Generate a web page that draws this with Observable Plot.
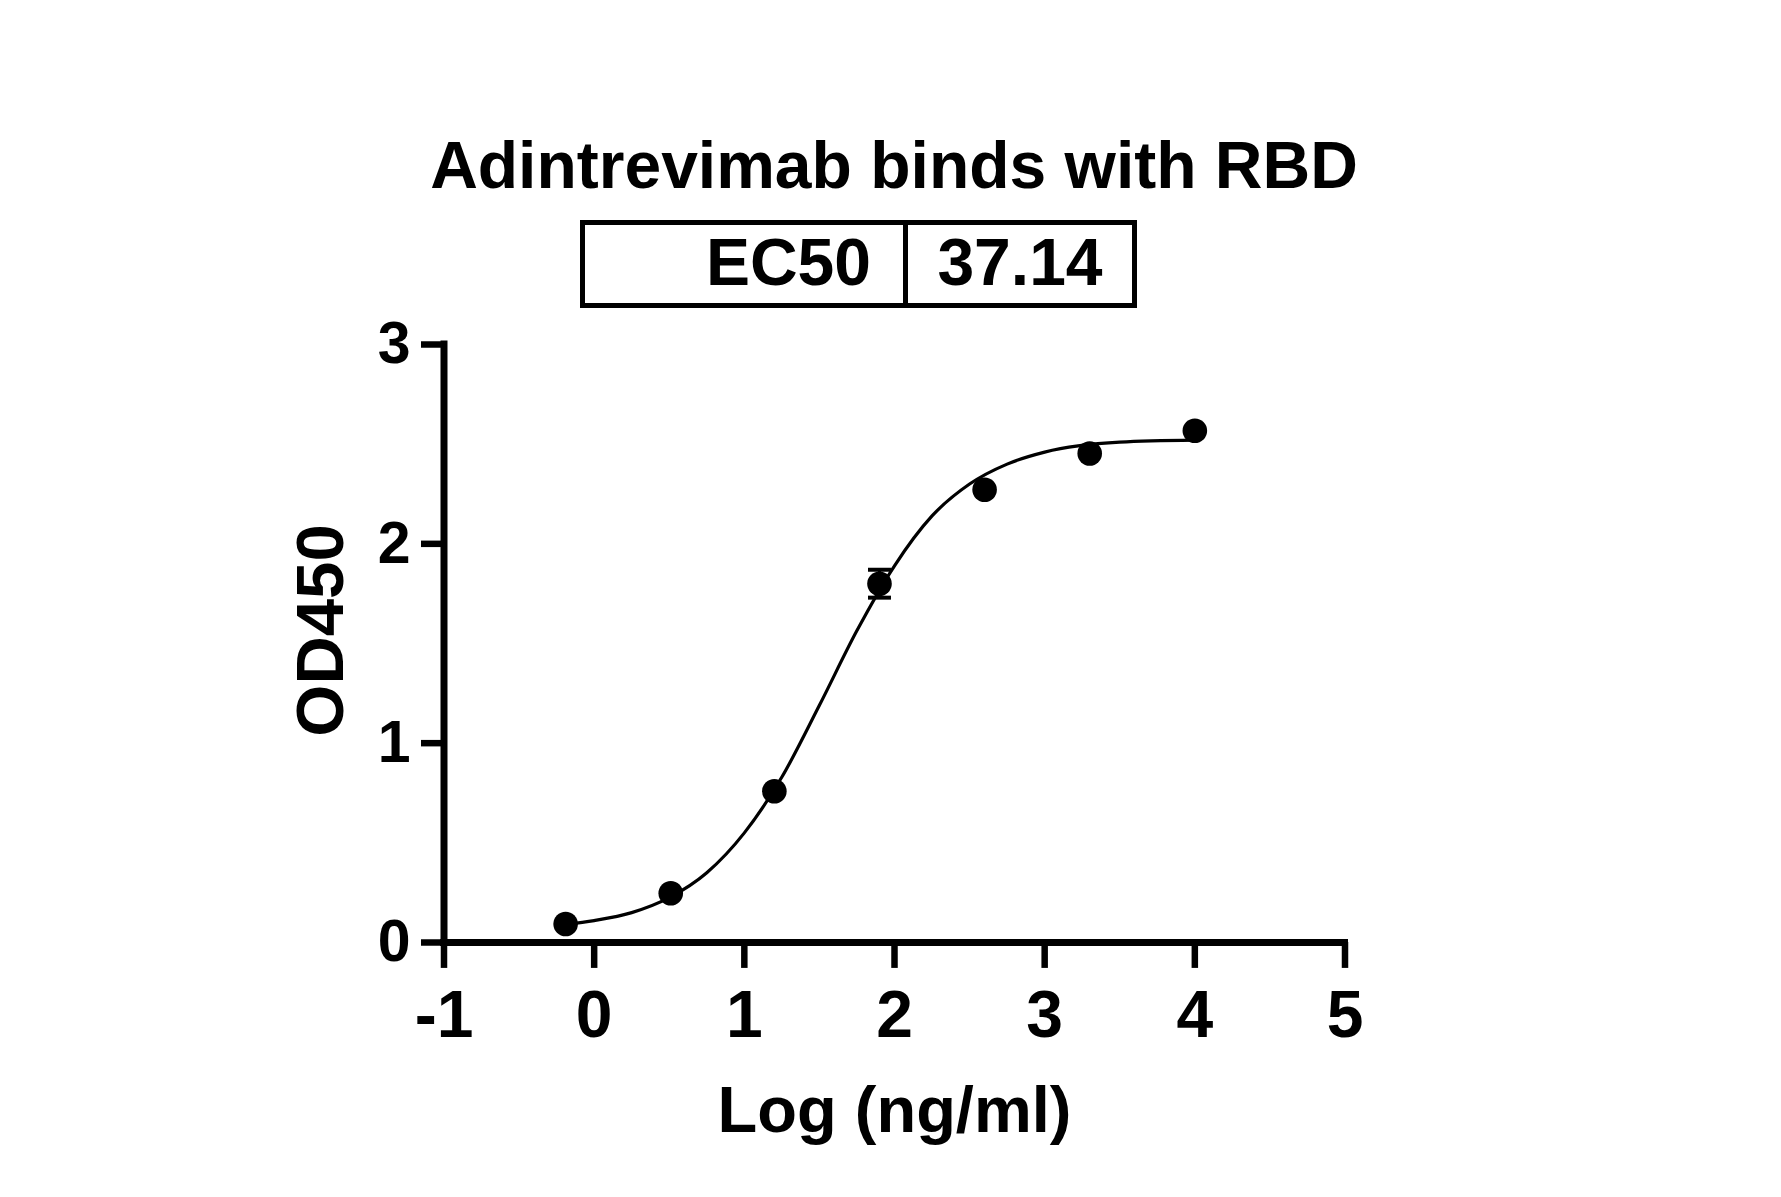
<!DOCTYPE html>
<html><head><meta charset="utf-8">
<script src="https://cdn.jsdelivr.net/npm/d3@7"></script>
<script src="https://cdn.jsdelivr.net/npm/@observablehq/plot@0.6"></script>
<style>
html,body{margin:0;padding:0;background:#fff;}
#page{position:relative;width:1781px;height:1197px;font-family:"Liberation Sans",Arial,sans-serif;font-weight:bold;color:#000;overflow:hidden;}
#title{position:absolute;left:294px;top:132px;width:1200px;text-align:center;font-size:66px;line-height:66px;white-space:nowrap;}
#ec50{position:absolute;left:580px;top:220px;width:557px;height:88px;box-sizing:border-box;border:5px solid #000;display:flex;font-size:66px;line-height:74px;}
#ec50 .k{width:318px;box-sizing:border-box;padding-right:32px;text-align:right;}
#ec50 .v{flex:1;border-left:5px solid #000;text-align:center;}
#chart{position:absolute;left:0;top:315px;}
</style></head><body>
<div id="page">
<div id="title"></div>
<div id="ec50"><div class="k"></div><div class="v"></div></div>
<div id="chart"></div>
</div>
<script>
const titleText = "Adintrevimab binds with RBD";
const ec50Label = "EC50";
const ec50Value = "37.14";
const xLabel = "Log (ng/ml)";
const yLabel = "OD450";
const xTicks = [-1, 0, 1, 2, 3, 4, 5];
const yTicks = [0, 1, 2, 3];

// measured points
const logConc = [-0.19, 0.51, 1.2, 1.9, 2.6, 3.3, 4.0];
const od450 = [0.093, 0.247, 0.759, 1.80, 2.271, 2.453, 2.567];
const errHalf = [0, 0, 0, 0.07, 0, 0, 0];

// fitted curve
const fitX = [-0.19, 0, 0.25, 0.5, 0.75, 1.0, 1.25, 1.5, 1.75, 2.0, 2.25, 2.5, 2.75, 3.0, 3.5, 4.0];
const fitY = [0.09, 0.11, 0.15, 0.225, 0.35, 0.55, 0.83, 1.19, 1.565, 1.89, 2.14, 2.30, 2.40, 2.46, 2.51, 2.52];

document.getElementById("title").textContent = titleText;
document.querySelector("#ec50 .k").textContent = ec50Label;
document.querySelector("#ec50 .v").textContent = ec50Value;

const points = logConc.map((x, i) => ({x, y: od450[i], e: errHalf[i]}));
const errs = points.filter(d => d.e > 0);
const fit = fitX.map((x, i) => ({x, y: fitY[i]}));
const capHalf = 0.0765;
const yTickLen = 0.15;   // tick length in x units (~22.5px)
const xTickLen = 0.13;   // tick length in y units (~26px)
const font = '"Liberation Sans", Arial, sans-serif';

const chart = Plot.plot({
  width: 1781,
  height: 860,
  marginLeft: 443.5,
  marginRight: 436.5,
  marginTop: 29,
  marginBottom: 233,
  style: {fontFamily: font, fontWeight: "bold", color: "#000", background: "transparent", overflow: "visible"},
  x: {domain: [-1, 5]},
  y: {domain: [0, 3]},
  marks: [
    Plot.axisY({ticks: yTicks, tickSize: 0, tickPadding: 33.5, fontSize: 59, fontWeight: "bold", label: null, tickFormat: d => String(d)}),
    Plot.axisX({ticks: xTicks, tickSize: 0, tickPadding: 48, fontSize: 66, fontWeight: "bold", label: null, tickFormat: d => String(d)}),
    Plot.ruleY(yTicks, {y: d => d, x1: -1 - yTickLen, x2: -1, strokeWidth: 6.5, stroke: "#000"}),
    Plot.ruleX(xTicks, {x: d => d, y1: -xTickLen, y2: 0, strokeWidth: 6.5, stroke: "#000"}),
    Plot.ruleX([-1], {strokeWidth: 7, strokeLinecap: "square", stroke: "#000"}),
    Plot.ruleY([0], {strokeWidth: 7, strokeLinecap: "square", stroke: "#000"}),
    Plot.line(fit, {x: "x", y: "y", curve: "monotone-x", strokeWidth: 3.2, stroke: "#000"}),
    Plot.ruleX(errs, {x: "x", y1: d => d.y - d.e, y2: d => d.y + d.e, strokeWidth: 3, stroke: "#000"}),
    Plot.link(errs, {x1: d => d.x - capHalf, x2: d => d.x + capHalf, y1: d => d.y - d.e, y2: d => d.y - d.e, strokeWidth: 4, stroke: "#000"}),
    Plot.link(errs, {x1: d => d.x - capHalf, x2: d => d.x + capHalf, y1: d => d.y + d.e, y2: d => d.y + d.e, strokeWidth: 4, stroke: "#000"}),
    Plot.dot(points, {x: "x", y: "y", r: 12.3, fill: "#000"}),
    Plot.text([yLabel], {text: d => d, frameAnchor: "left", rotate: -90, dx: -101.5, dy: -13, lineAnchor: "bottom", textAnchor: "middle", fontSize: 67, fontWeight: "bold", fill: "#000"}),
    Plot.text([xLabel], {text: d => d, frameAnchor: "bottom", dy: 189, lineAnchor: "bottom", textAnchor: "middle", fontSize: 65, fontWeight: "bold", fill: "#000"})
  ]
});
document.getElementById("chart").appendChild(chart);
</script>
</body></html>
